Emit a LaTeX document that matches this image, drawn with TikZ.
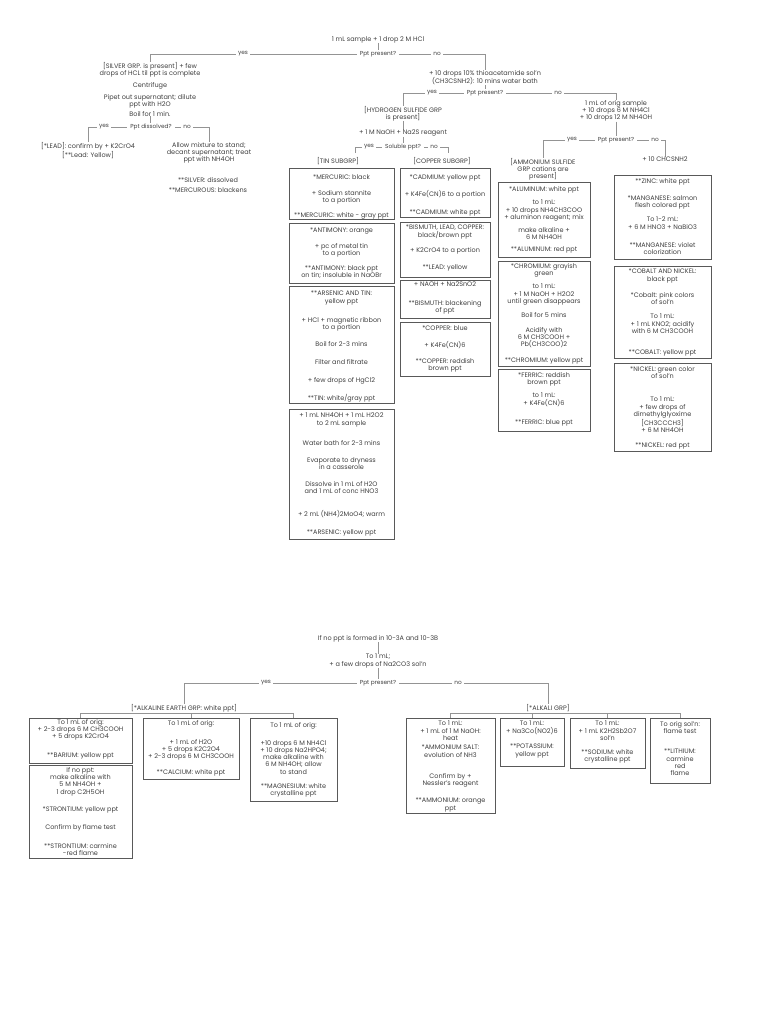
\documentclass[tikz,border=0pt]{standalone}
\usepackage{fontspec}
\setmainfont{Poppins}
\usetikzlibrary{backgrounds,fit}
\definecolor{tc}{gray}{0.25}
\definecolor{bc}{gray}{0.35}
\definecolor{lc}{gray}{0.58}
\newcommand{\fsz}{\fontsize{6.5}{7.3}\selectfont}
\newcommand{\fsq}{\fontsize{5.8}{6.4}\selectfont}
\newcounter{btc}
\newcommand{\txtnode}[4]{\node[txt,anchor=north] (#1) at (#2,#3-3) {#4};}
\newcommand{\bt}[3]{\stepcounter{btc}\node[txt,anchor=north] (bt\thebtc) at (#1,#2-3) {#3};}
\newcommand{\qnode}[4]{\node[qq] (#1) at (#2,#3) {#4};}
\newcommand{\labnode}[4]{\node[lab] (#1) at (#2,#3) {#4};}
\newcommand{\boxnode}[5]{\node[bx,fit={(#2,#3) (#4,#5)}] (#1) {};}
\tikzset{
  txt/.style={font=\fsz, align=center, inner sep=0pt, text=tc},
  qq/.style={txt, font=\fsq, fill=white, inner xsep=3pt, inner ysep=1pt},
  lab/.style={txt, font=\fsq, fill=white, inner xsep=2pt, inner ysep=1pt},
  bx/.style={draw=bc, line width=1pt, inner sep=0pt},
  conn/.style={draw=lc, line width=0.7pt},
}
\begin{document}
\begin{tikzpicture}[x=1pt,y=-1pt]
\useasboundingbox (0,0) rectangle (768,1024);
% ---------------- top
\txtnode{n0}{378}{39}{1 mL sample + 1 drop 2 M HCl}
\qnode{q1}{378}{54}{Ppt present?}
\labnode{y1}{243}{54}{yes}
\labnode{no1}{437}{54}{no}
\txtnode{s1}{150}{65}{[SILVER GRP. is present] + few\\drops of HCL til ppt is complete}
\txtnode{s2}{150}{85}{Centrifuge}
\txtnode{s3}{150}{97}{Pipet out supernatant; dilute\\ppt with H2O}
\txtnode{s4}{150}{114}{Boil for 1 min.}
\qnode{q2}{151}{127}{Ppt dissolved?}
\labnode{y2}{104}{127}{yes}
\labnode{no2}{187}{127}{no}
\txtnode{pb}{88}{145}{[*LEAD]: confirm by + K2CrO4\\{}[**Lead: Yellow]}
\txtnode{ag1}{209}{145}{Allow mixture to stand;\\decant supernatant; treat\\ppt with NH4OH}
\txtnode{ag2}{208}{180}{**SILVER: dissolved}
\txtnode{ag3}{208}{190}{**MERCUROUS: blackens}
% right branch
\txtnode{h1}{485}{73}{+ 10 drops 10\% thioacetamide sol'n\\(CH3CSNH2): 10 mins water bath}
\qnode{q3}{485}{93}{Ppt present?}
\labnode{y3}{432}{93}{yes}
\labnode{no3}{558}{93}{no}
\txtnode{hs}{403}{109}{[HYDROGEN SULFIDE GRP\\is present]}
\txtnode{hs2}{403}{133}{+ 1 M NaOH + Na2S reagent}
\qnode{q4}{403}{147}{Soluble ppt?}
\labnode{y4}{369}{147}{yes}
\labnode{no4}{434}{147}{no}
\coordinate (c4l) at (355,153);
\coordinate (c4r) at (448,153);
\txtnode{tin}{338}{160}{[TIN SUBGRP]}
\txtnode{cu}{442}{160}{[COPPER SUBGRP]}
\txtnode{am0}{616}{103}{1 mL of orig sample\\+ 10 drops 6 M NH4Cl\\+ 10 drops 12 M NH4OH}
\qnode{q5}{616}{140}{Ppt present?}
\labnode{y5}{572}{140}{yes}
\labnode{no5}{655}{140}{no}
\txtnode{as}{543}{161}{[AMMONIUM SULFIDE\\GRP cations are\\present]}
\txtnode{ch}{665}{160}{+ 10 CHCSNH2}
% tin subgroup boxes
\boxnode{tb1}{289}{169}{394}{220}
\bt{341.5}{177}{*MERCURIC: black}
\bt{341.5}{193}{+ Sodium stannite\\to a portion}
\bt{341.5}{215}{**MERCURIC: white - gray ppt}
\boxnode{tb2}{289}{224}{394}{283}
\bt{341.5}{231}{*ANTIMONY: orange}
\bt{341.5}{246}{+ pc of metal tin\\to a portion}
\bt{341.5}{268}{**ANTIMONY: black ppt\\on tin; insoluble in NaOBr}
\boxnode{tb3}{289}{286}{394}{403}
\bt{341.5}{294}{**ARSENIC AND TIN:\\yellow ppt}
\bt{341.5}{320}{+ HCl + magnetic ribbon\\to a portion}
\bt{341.5}{344}{Boil for 2-3 mins}
\bt{341.5}{362}{Filter and filtrate}
\bt{341.5}{380}{+ few drops of HgCl2}
\bt{341.5}{397}{**TIN: white/gray ppt}
\boxnode{tb4}{289}{409}{394}{539}
\bt{341.5}{416}{+ 1 mL NH4OH + 1 mL H2O2\\to 2 mL sample}
\bt{341.5}{443}{Water bath for 2-3 mins}
\bt{341.5}{460}{Evaporate to dryness\\in a casserole}
\bt{341.5}{484}{Dissolve in 1 mL of H2O\\and 1 mL of conc HNO3}
\bt{341.5}{513}{+ 2 mL (NH4)2MoO4; warm}
\bt{341.5}{532}{**ARSENIC: yellow ppt}
% copper subgroup boxes
\boxnode{cb1}{400}{169}{490}{218}
\bt{445}{177}{*CADMIUM: yellow ppt}
\bt{445}{193}{+ K4Fe(CN)6 to a portion}
\bt{445}{212}{**CADMIUM: white ppt}
\boxnode{cb2}{400}{223}{490}{277}
\bt{445}{228}{*BISMUTH, LEAD, COPPER:\\black/brown ppt}
\bt{445}{250}{+ K2CrO4 to a portion}
\bt{445}{267}{**LEAD: yellow}
\boxnode{cb3}{400}{280}{490}{318}
\bt{445}{285}{+ NAOH + Na2SnO2}
\bt{445}{303}{**BISMUTH: blackening\\of ppt}
\boxnode{cb4}{400}{322}{490}{376}
\bt{445}{328}{*COPPER: blue}
\bt{445}{344}{+ K4Fe(CN)6}
\bt{445}{361}{**COPPER: reddish\\brown ppt}
% ammonium sulfide boxes
\boxnode{ab1}{498}{183}{590}{257}
\bt{544}{189}{*ALUMINUM: white ppt}
\bt{544}{203}{to 1 mL:\\+ 10 drops NH4CH3COO\\+ aluminon reagent; mix}
\bt{544}{230}{make alkaline +\\6 M NH4OH}
\bt{544}{249}{**ALUMINUM: red ppt}
\boxnode{ab2}{498}{261}{590}{366}
\bt{544}{266}{*CHROMIUM: grayish\\green}
\bt{544}{287}{to 1 mL:\\+ 1 M NaOH + H2O2\\until green disappears}
\bt{544}{315}{Boil for 5 mins}
\bt{544}{330}{Acidify with\\6 M CH3COOH +\\Pb(CH3COO)2}
\bt{544}{360}{**CHROMIUM: yellow ppt}
\boxnode{ab3}{498}{369}{590}{431}
\bt{544}{375}{*FERRIC: reddish\\brown ppt}
\bt{544}{396}{to 1 mL:\\+ K4Fe(CN)6}
\bt{544}{422}{**FERRIC: blue ppt}
\boxnode{rb1}{614}{176}{711}{259}
\bt{662.5}{181}{**ZINC: white ppt}
\bt{662.5}{198}{*MANGANESE: salmon\\flesh colored ppt}
\bt{662.5}{220}{To 1-2 mL:\\+ 6 M HNO3 + NaBiO3}
\bt{662.5}{245}{**MANGANESE: violet\\colorization}
\boxnode{rb2}{614}{266}{711}{358}
\bt{662.5}{272}{*COBALT AND NICKEL:\\black ppt}
\bt{662.5}{295}{*Cobalt: pink colors\\of sol'n}
\bt{662.5}{317}{To 1 mL:\\+ 1 mL KNO2; acidify\\with 6 M CH3COOH}
\bt{662.5}{352}{**COBALT: yellow ppt}
\boxnode{rb3}{614}{363}{711}{451}
\bt{662.5}{369}{*NICKEL: green color\\of sol'n}
\bt{662.5}{400}{To 1 mL:\\+ few drops of\\dimethylglyoxime\\{}[CH3CCCH3]\\+ 6 M NH4OH}
\bt{662.5}{445}{**NICKEL: red ppt}
% ---------------- bottom
\txtnode{b0}{378}{638}{If no ppt is formed in 10-3A and 10-3B}
\txtnode{b1}{378}{657}{To 1 mL;\\+ a few drops of Na2CO3 sol'n}
\qnode{q6}{378}{683}{Ppt present?}
\labnode{y6}{266}{683}{yes}
\labnode{no6}{458}{683}{no}
\txtnode{ae}{184}{707}{[*ALKALINE EARTH GRP: white ppt]}
\txtnode{ak}{548}{707}{[*ALKALI GRP]}
\boxnode{ba}{29}{718}{132}{763}
\bt{80.5}{722}{To 1 mL of orig:\\+ 2-3 drops 6 M CH3COOH\\+ 5 drops K2CrO4}
\bt{80.5}{755}{**BARIUM: yellow ppt}
\boxnode{sr}{29}{765}{132}{858}
\bt{80.5}{770}{If no ppt:\\make alkaline with\\5 M NH4OH +\\1 drop C2H5OH}
\bt{80.5}{809}{*STRONTIUM: yellow ppt}
\bt{80.5}{827}{Confirm by flame test}
\bt{80.5}{846}{**STRONTIUM: carmine\\-red flame}
\boxnode{ca}{143}{718}{239}{779}
\bt{191}{723}{To 1 mL of orig:}
\bt{191}{742}{+ 1 mL of H2O\\+ 5 drops K2C2O4\\+ 2-3 drops 6 M CH3COOH}
\bt{191}{772}{**CALCIUM: white ppt}
\boxnode{mg}{250}{718}{337}{801}
\bt{293.5}{725}{To 1 mL of orig:}
\bt{293.5}{743}{+10 drops 6 M NH4Cl\\+ 10 drops Na2HPO4;\\make alkaline with\\6 M NH4OH; allow\\to stand}
\bt{293.5}{786}{**MAGNESIUM: white\\crystalline ppt}
\boxnode{nh}{406}{718}{495}{813}
\bt{450.5}{724}{To 1 mL:\\+ 1 mL of 1 M NaOH:\\heat}
\bt{450.5}{748}{*AMMONIUM SALT:\\evolution of NH3}
\bt{450.5}{776}{Confirm by +\\Nessler's reagent}
\bt{450.5}{801}{**AMMONIUM: orange\\ppt}
\boxnode{kk}{500}{718}{564}{766}
\bt{532}{724}{To 1 mL:\\+ Na3Co(NO2)6}
\bt{532}{747}{**POTASSIUM:\\yellow ppt}
\boxnode{na}{570}{718}{645}{768}
\bt{607.5}{724}{To 1 mL:\\+ 1 mL K2H2Sb2O7\\sol'n}
\bt{607.5}{752}{**SODIUM: white\\crystalline ppt}
\boxnode{li}{650}{718}{710}{783}
\bt{680}{724}{To orig sol'n:\\flame test}
\bt{680}{752}{**LITHIUM:\\carmine\\red\\flame}
% ---------------- connectors
\begin{scope}[on background layer]
\fill[white] (0,0) rectangle (768,1024);
\draw[conn] (n0.south) -- (q1.center);
\draw[conn] (q1.center) -| (s1.north);
\draw[conn] (q1.center) -| (h1.north);
\draw[conn] (s4.south) -- (s4.south |- q2.center);
\draw[conn] (q2.center) -| (pb.north);
\draw[conn] (q2.center) -| (ag1.north);
\draw[conn] (h1.south) -- (q3.center);
\draw[conn] (q3.center) -| (hs.north);
\draw[conn] (q3.center) -| (am0.north);
\draw[conn] (hs.south) -- (hs2.north);
\draw[conn] (hs2.south) -- (q4.center);
\draw[conn] (q4.center) -| (c4l);
\draw[conn] (q4.center) -| (c4r);
\draw[conn] (am0.south) -- (q5.center);
\draw[conn] (q5.center) -| (as.north);
\draw[conn] (q5.center) -| (ch.north);
\draw[conn] (b0.south) -- (b1.north);
\draw[conn] (b1.south) -- (q6.center);
\draw[conn] (q6.center) -| (ae.north);
\draw[conn] (q6.center) -| (ak.north);
\draw[conn] (ba.north) -- ++(0,-4) -| (mg.north);
\draw[conn] (ca.north) -- ++(0,-4);
\draw[conn] (nh.north) -- ++(0,-4) -| (li.north);
\draw[conn] (kk.north) -- ++(0,-4);
\draw[conn] (na.north) -- ++(0,-4);
\end{scope}
\end{tikzpicture}
\end{document}
